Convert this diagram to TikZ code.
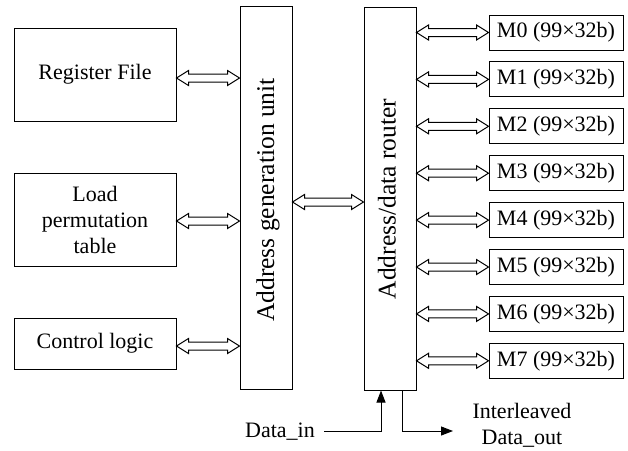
\documentclass[tikz,border=0pt]{standalone}
\usepackage{fontspec}
\setmainfont{Liberation Serif}
\usetikzlibrary{calc,arrows.meta}
\begin{document}
\begin{tikzpicture}[x=1pt,y=-1pt,line width=1pt,
  box/.style={draw,rectangle,inner sep=0pt,font=\fontsize{22}{26}\selectfont,align=center},
  tall/.style={box,minimum width=52pt,minimum height=383pt},
  mem/.style={box,minimum width=134pt,minimum height=35pt},
  vlabel/.style={font=\fontsize{25.5}{30}\selectfont,rotate=90},
  txt/.style={font=\fontsize{22}{26}\selectfont,align=center,inner sep=0pt},
  sig/.style={-{Triangle[length=12pt,width=9pt]},line join=miter},
  bus/.style={line join=miter,to path={let \p1=(\tikztostart), \p2=(\tikztotarget) in
    (\x1,\y1) -- (\x1+12pt,\y1+7.5pt) -- (\x1+12pt,\y1+4pt) -- (\x2-12pt,\y1+4pt)
    -- (\x2-12pt,\y1+7.5pt) -- (\x2,\y1) -- (\x2-12pt,\y1-7.5pt) -- (\x2-12pt,\y1-4pt)
    -- (\x1+12pt,\y1-4pt) -- (\x1+12pt,\y1-7.5pt) -- cycle}}]
\useasboundingbox (0,0) rectangle (628,450);

% left-hand blocks
\node[box,minimum width=162pt,minimum height=93pt] (rf) at (95,74.5) {Register File};
\node[box,minimum width=162pt,minimum height=93pt] (lpt) at (95,219.5) {Load\\permutation\\table};
\node[box,minimum width=162pt,minimum height=51pt] (cl) at (95,343.5) {Control logic};

% address generation unit and router
\node[tall] (agu) at (266,198) {};
\node[vlabel] (agutxt) at (268,200) {Address generation unit};
\node[tall] (rtr) at (390,198.5) {};
\node[vlabel] (rtrtxt) at (387,199) {Address/data router};

% memory banks
\foreach \i in {0,...,7}{
  \node[mem] (m\i) at (556,32.5+46.9*\i) {M\i{} (99×32b)};
  \draw[bus] (rtr.east |- m\i) to (m\i.west);
}

% buses into the address generation unit
\draw[bus] ([yshift=-3.5pt]rf.east) to ([yshift=-3.5pt]rf.east -| agu.west);
\draw[bus] ([yshift=-1.5pt]lpt.east) to ([yshift=-1.5pt]lpt.east -| agu.west);
\draw[bus] ([yshift=-2.5pt]cl.east) to ([yshift=-2.5pt]cl.east -| agu.west);
\draw[bus] ([yshift=-4pt]agu.east) to ([yshift=-4pt]agu.east -| rtr.west);

% data in / data out
\node[txt,anchor=base] (din) at (280,437) {Data\_in};
\coordinate (dinend) at (324,431);
\draw[sig] (dinend) -| ([xshift=-9pt]rtr.south);
\node[txt] (dout) at (522,425) {Interleaved\\Data\_out};
\coordinate (doutend) at (453,431);
\draw[sig] ([xshift=12pt]rtr.south) |- (doutend);
\end{tikzpicture}
\end{document}
